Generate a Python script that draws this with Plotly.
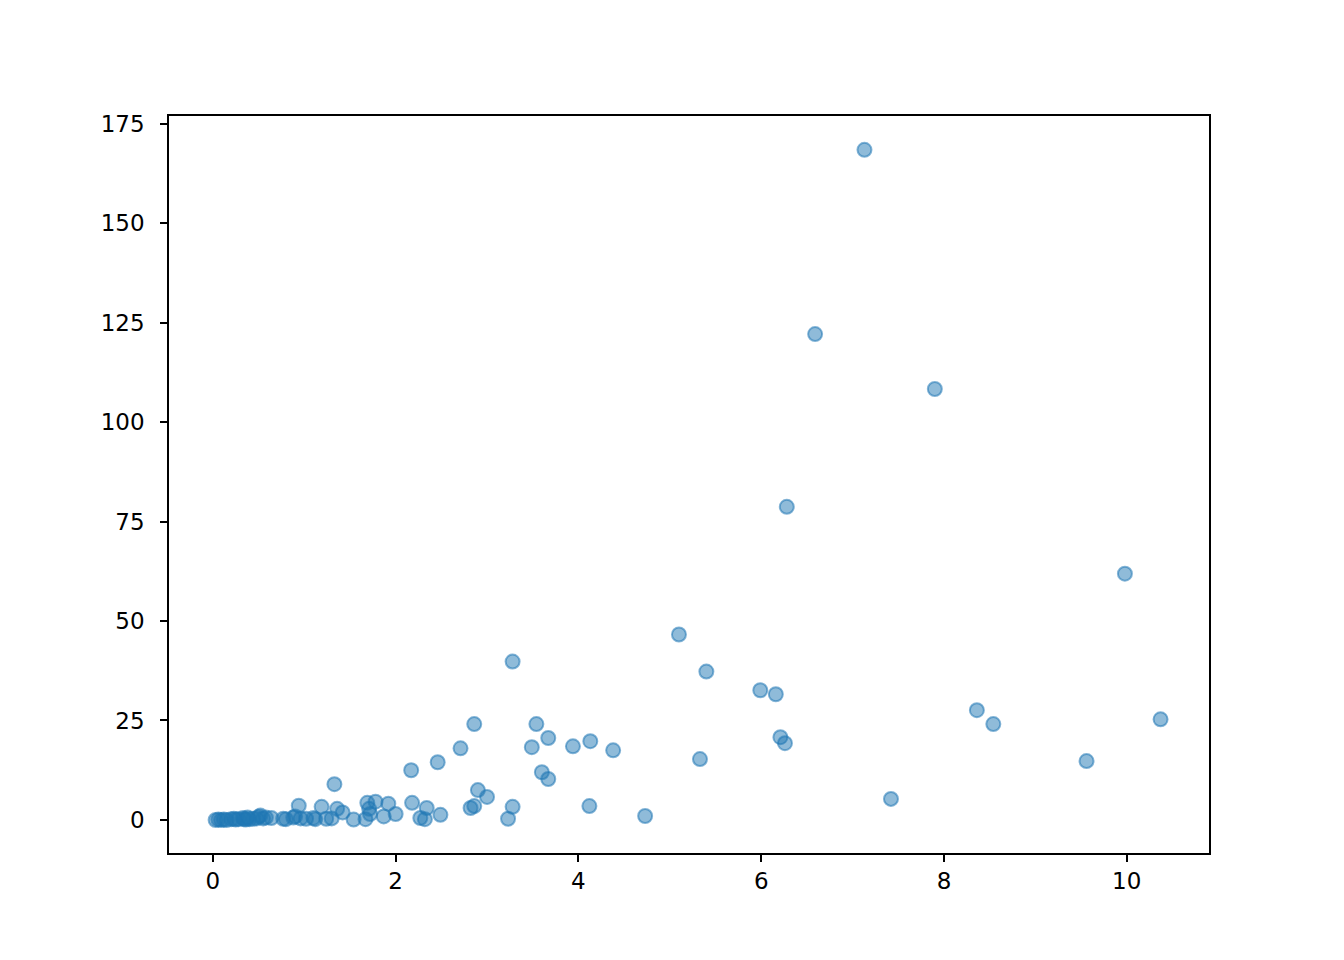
import plotly.graph_objects as go

x_vals = [
    7.13, 6.59, 7.90, 6.28, 9.98, 5.10, 3.28, 5.40, 5.99, 6.16,
    8.36, 8.54, 10.37, 2.86, 3.54, 3.67, 4.13, 6.21, 6.26, 3.49,
    3.94, 4.38, 2.71, 2.46, 2.17, 5.33, 9.56, 3.60, 3.67, 7.42,
    1.33, 2.90, 3.00, 4.12, 3.28, 2.82, 2.86, 3.23, 4.73, 2.49,
    2.34, 2.18, 2.27, 2.32,
    0.94, 1.19, 1.36, 1.42, 1.69, 1.78, 1.92, 1.71, 1.72, 1.87,
    2.00, 1.54, 1.67, 1.30, 1.24, 1.10, 1.12, 0.96, 0.90,
    0.03, 0.06, 0.09, 0.12, 0.20, 0.23, 0.28, 0.33, 0.36, 0.40,
    0.44, 0.50, 0.52, 0.55, 0.58, 0.64, 0.77, 0.80, 0.88, 1.02,
    0.34, 0.48, 0.25, 0.15, 0.38,
]
y_vals = [
    168.4, 122.1, 108.3, 78.7, 61.9, 46.6, 39.8, 37.3, 32.6, 31.6,
    27.6, 24.1, 25.3, 24.1, 24.1, 20.6, 19.8, 20.8, 19.3, 18.3,
    18.5, 17.5, 18.0, 14.5, 12.5, 15.3, 14.8, 12.0, 10.3, 5.3,
    9.0, 7.5, 5.8, 3.5, 3.3, 3.0, 3.5, 0.3, 1.0, 1.3,
    3.0, 4.3, 0.5, 0.2,
    3.6, 3.3, 2.8, 1.9, 4.3, 4.6, 4.1, 2.8, 1.5, 0.9,
    1.5, 0.1, 0.2, 0.4, 0.3, 0.5, 0.2, 0.4, 0.9,
    0.0, 0.1, 0.0, 0.1, 0.2, 0.3, 0.2, 0.5, 0.1, 0.2,
    0.3, 0.8, 1.1, 0.4, 0.6, 0.5, 0.3, 0.2, 0.6, 0.3,
    0.2, 0.4, 0.1, 0.0, 0.6,
]

x_ticks = [0, 2, 4, 6, 8, 10]
y_ticks = [0, 25, 50, 75, 100, 125, 150, 175]

fig = go.Figure()
fig.add_trace(go.Scatter(
    x=x_vals, y=y_vals, mode="markers",
    marker=dict(size=14, color="rgba(31,119,180,0.5)",
                line=dict(width=2, color="rgba(31,119,180,0.55)")),
    showlegend=False,
))

axis_common = dict(
    showgrid=False, zeroline=False, showline=True, linecolor="black",
    linewidth=1.5, mirror=True, ticks="outside", ticklen=7, tickwidth=1.5,
    tickcolor="black", tickfont=dict(family="DejaVu Sans", size=23, color="black"),
)
fig.update_xaxes(range=[-0.48, 10.9], tickvals=x_ticks, ticktext=[str(t) for t in x_ticks],
                 ticklabelstandoff=0, **axis_common)
fig.update_yaxes(range=[-8.3, 176.9], tickvals=y_ticks, ticktext=[str(t) for t in y_ticks],
                 ticklabelstandoff=11, **axis_common)

fig.update_layout(
    width=1328, height=944,
    margin=dict(l=161, r=127, t=108, b=99),
    plot_bgcolor="white", paper_bgcolor="white",
)
fig.write_html("out.html")
